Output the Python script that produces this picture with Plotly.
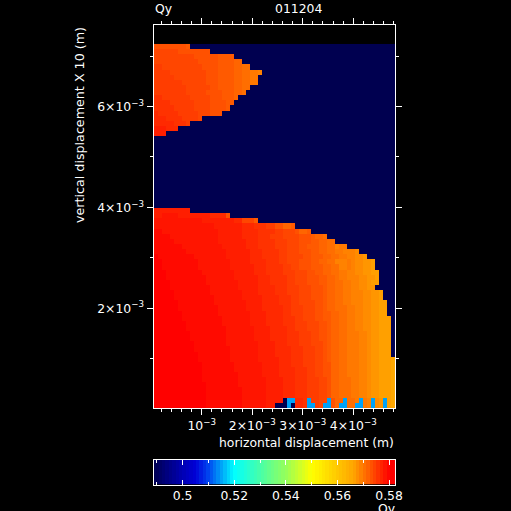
import numpy as np
import plotly.graph_objects as go
from plotly.subplots import make_subplots

# Cell levels, top row first, 60 columns per row.
# 0-h = steps from red (0) to orange (h), '.' = navy, '~' = light blue
grid_rows = [
"888888889. .......... .......... .......... .......... ..........",
"7777778888 8888...... .......... .......... .......... ..........",
"7777777777 8888889999 .......... .......... .......... ..........",
"7777777777 7888889999 aa........ .......... .......... ..........",
"6677777777 7788889999 aabb...... .......... .......... ..........",
"6666777777 7778889999 aabbccd... .......... .......... ..........",
"6666677777 7778889999 aabbcc.... .......... .......... ..........",
"6666666777 7778889999 aabbcc.... .......... .......... ..........",
"6666666677 7777889999 aabb...... .......... .......... ..........",
"6666666677 7778888999 aab....... .......... .......... ..........",
"5566666667 7777888999 a......... .......... .......... ..........",
"5555666666 7777888899 .......... .......... .......... ..........",
"5555566666 777788889. .......... .......... .......... ..........",
"4555556666 6777888... .......... .......... .......... ..........",
"4445555666 67........ .......... .......... .......... ..........",
"444445556. .......... .......... .......... .......... ..........",
"333444.... .......... .......... .......... .......... ..........",
"333....... .......... .......... .......... .......... ..........",
] + [
".......... .......... .......... .......... .......... .........."
] * 14 + [
"333333333. .......... .......... .......... .......... ..........",
"3322223333 333344448. .......... .......... .......... ..........",
"2222222222 2233333333 447779.... .......... .......... ..........",
"2222222222 2222233333 3344455566 88aa9..... .......... ..........",
"1122222222 2222223333 3344445555 667778aa9. .......... ..........",
"1111222222 2222223333 3344445556 6677778889 aab....... ..........",
"1111122222 2222223333 3334445555 6667778889 9aabb..... ..........",
"1111111222 2222222333 3334445555 6667778899 9aabbdcc.. ..........",
"1111111122 2222222233 3333444555 5667778889 9aabbccddd e.........",
"0111111111 2222222233 3333444555 5667777889 99aabbccdd eef.......",
"0011111111 1222222223 3333444455 5667778889 9aabbdddcd eeffg.....",
"0011111111 1222222223 3333344455 5566778889 99aabbddcd eeffg.....",
"0001111111 1122222222 3333344455 5566677788 99aabbccdd eeffgg....",
"0001111111 1112222222 3333334445 5556677788 899aabccdd deeffg....",
"0000111111 1112222222 2333334445 5556677788 899aabbccd deefgg....",
"0000111111 1111222222 2333334444 5556667778 889aabbccd deeff.....",
"0000011111 1111222222 2233334444 5556667778 889aabbccd ddeeffg...",
"0000011111 1111122222 2233333444 4555667778 889aabbccd ddeeffg...",
"0000001111 1111122222 2223333444 4555667777 889aabbccd ddeeffgg..",
"0000001111 1111112222 2223333444 4455666777 889aabbbcc ddeeffgg..",
"0000000111 1111112222 2222333344 4455666777 8899aabbcc ddeeffgg..",
"0000000111 1111111222 2222333344 4455566777 8899aabbcc ddeeffggg.",
"0000000011 1111111222 2222333344 4455566677 7889aabbcc ddeeffggg.",
"0000000011 1111111122 2222233334 4445566677 7889aabbcc ddeeffggg.",
"0000000001 1111111122 2222233334 4445556667 7889aabbcc cddeffggg.",
"0000000001 1111111122 2222233334 4445556667 7889aabbcc cddeffggg.",
"0000000000 1111111122 2222223333 4445556667 7789aabbcc cddeffggg.",
"0000000000 1111111112 2222223333 4444555666 7789aabbcc cddeffggg.",
"0000000000 0111111112 2222223333 4444555666 7789aabbcc cddeffggg.",
"0000000000 0111111112 2222223333 3444555666 7789aabbcc cddeffgggh",
"0000000000 0011111111 2222222333 3444555666 7788aabbcc cddeffgggh",
"0000000000 0011111111 2222222333 3444455566 7788aabbcc cddeffgggh",
"0000000000 0011111111 1222222333 3444455566 7788aabbcc cddeffgggh",
"0000000000 0011111111 1222222233 3344455566 6778aabbbc cddeffgggh",
"0000000000 0001111111 1222222233 3344455566 6778aabbbc cddeffgggh",
"0000000000 0001111111 1122222233 3344455566 6778aabbbc cddeffgggh",
"0000000000 0001111111 1122222233 3344455566 6778aabbbc cddeffgggh",
"0000000000 0001111111 1122222233 33.~~445~6 677~8aa~bb c~cd~ef~gh",
"0000000000 0001111111 1122222233 ...~.445~~ 67~~8a~~bb ~~cd~ef~gh",
]

level_values = {
    "0": 0.5800, "1": 0.5792, "2": 0.5783, "3": 0.5775, "4": 0.5766, "5": 0.5758,
    "6": 0.5749, "7": 0.5741, "8": 0.5732, "9": 0.5724, "a": 0.5715, "b": 0.5707,
    "c": 0.5698, "d": 0.5690, "e": 0.5681, "f": 0.5673, "g": 0.5664, "h": 0.5655,
    ".": 0.4887, "~": 0.5150,
}

x_start, x_stop = 0.045e-3, 4.826e-3
y_start, y_stop = 0.024e-3, 7.239e-3
x_range = [0.045e-3, 4.826e-3]
y_range = [0.024e-3, 7.615e-3]
z_range = [0.4887, 0.5823]

x_tick_vals = [1e-3, 2e-3, 3e-3, 4e-3]
x_tick_text = ["10<sup>−3</sup>", "2×10<sup>−3</sup>", "3×10<sup>−3</sup>", "4×10<sup>−3</sup>"]
x_minor_vals = [0.2e-3, 0.4e-3, 0.6e-3, 0.8e-3, 1.2e-3, 1.4e-3, 1.6e-3, 1.8e-3, 2.2e-3, 2.4e-3,
                2.6e-3, 2.8e-3, 3.2e-3, 3.4e-3, 3.6e-3, 3.8e-3, 4.2e-3, 4.4e-3, 4.6e-3, 4.8e-3]
y_tick_vals = [2e-3, 4e-3, 6e-3]
y_tick_text = ["2×10<sup>−3</sup>", "4×10<sup>−3</sup>", "6×10<sup>−3</sup>"]
y_minor_vals = [1e-3, 3e-3, 5e-3, 7e-3]
cb_tick_vals = [0.50, 0.52, 0.54, 0.56, 0.58]
cb_tick_text = ["0.5", "0.52", "0.54", "0.56", "0.58"]
cb_minor_vals = [0.49, 0.51, 0.53, 0.55, 0.57]

colors = [
    [0.000, "rgb(0,0,80)"], [0.120, "rgb(0,0,180)"], [0.174, "rgb(0,0,215)"],
    [0.228, "rgb(0,70,240)"], [0.334, "rgb(0,255,255)"], [0.440, "rgb(70,255,170)"],
    [0.548, "rgb(150,255,90)"], [0.655, "rgb(255,255,0)"], [0.826, "rgb(255,165,0)"],
    [0.976, "rgb(255,0,0)"], [1.000, "rgb(255,0,0)"],
]

FONT = "DejaVu Sans"
W, H = 511, 511

z = [[level_values[c] for c in row.replace(" ", "")] for row in grid_rows][::-1]
nrows, ncols = len(z), len(z[0])
dx = (x_stop - x_start) / ncols
dy = (y_stop - y_start) / nrows

fig = make_subplots(rows=2, cols=1)
fig.add_trace(go.Heatmap(z=z, x0=x_start + dx / 2, dx=dx, y0=y_start + dy / 2, dy=dy,
                         coloraxis="coloraxis", hoverinfo="skip"), row=1, col=1)
ramp = np.linspace(z_range[0], z_range[1], 72)
fig.add_trace(go.Heatmap(z=[ramp], x=ramp, coloraxis="coloraxis", hoverinfo="skip"), row=2, col=1)

line = dict(showline=True, linecolor="white", linewidth=1, mirror="ticks", showgrid=False,
            zeroline=False, tickcolor="white", tickwidth=1, automargin=False,
            tickfont=dict(family=FONT, size=12.4, color="white"))

fig.update_xaxes(row=1, col=1, domain=[153.5 / W, 395 / W], range=x_range, tickmode="array",
                 tickvals=x_tick_vals, ticktext=x_tick_text, ticks="outside", ticklen=6,
                 minor=dict(tickmode="array", tickvals=x_minor_vals, ticks="outside", ticklen=3,
                            tickcolor="white", tickwidth=1), **line)
fig.update_yaxes(row=1, col=1, domain=[1 - 408 / H, 1 - 25 / H], range=y_range, tickmode="array",
                 tickvals=y_tick_vals, ticktext=y_tick_text, ticks="outside", ticklen=6,
                 minor=dict(tickmode="array", tickvals=y_minor_vals, ticks="outside", ticklen=3,
                            tickcolor="white", tickwidth=1), **line)
fig.update_xaxes(row=2, col=1, domain=[153.5 / W, 395 / W], range=z_range, tickmode="array",
                 tickvals=cb_tick_vals, ticktext=cb_tick_text, ticks="inside", ticklen=5,
                 minor=dict(tickmode="array", tickvals=cb_minor_vals, ticks="inside", ticklen=3,
                            tickcolor="white", tickwidth=1), **line)
fig.update_yaxes(row=2, col=1, domain=[1 - 484.5 / H, 1 - 459.5 / H], showline=True, linecolor="white",
                 linewidth=1, mirror=True, showticklabels=False, ticks="", showgrid=False, zeroline=False,
                 automargin=False)


def label(text, px, py, anchor="center", angle=0, size=12.4):
    fig.add_annotation(text=text, x=px / W, y=1 - py / H, xref="paper", yref="paper", xanchor=anchor,
                       yanchor="middle", showarrow=False, textangle=angle,
                       font=dict(family=FONT, size=size, color="white"))


label("Qy", 153, 8, "left")
label("011204", 298, 8)
label("horizontal displacement (m)", 396, 442, "right")
label("vertical displacement X 10 (m)", 80, 125, angle=-90, size=12.7)
label("Qy", 397, 508, "right")

fig.update_layout(template="none", width=W, height=H, margin=dict(l=0, r=0, t=0, b=0, autoexpand=False),
                  paper_bgcolor="black", plot_bgcolor="black", showlegend=False,
                  coloraxis=dict(colorscale=colors, cmin=z_range[0], cmax=z_range[1], showscale=False))

fig.write_html("out.html", config={"displayModeBar": False},
               post_script="document.body.style.margin='0';document.body.style.background='black';")
